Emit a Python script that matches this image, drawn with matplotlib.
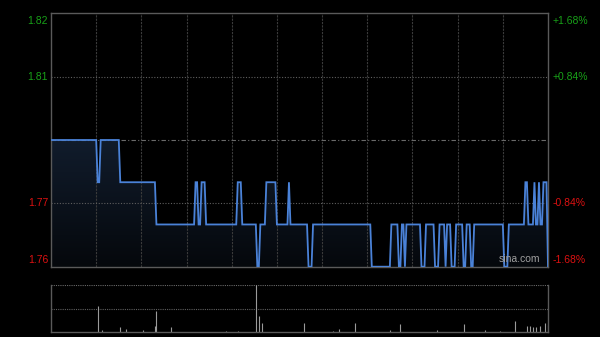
import numpy as np
import matplotlib
matplotlib.use('Agg')
import matplotlib.pyplot as plt
from matplotlib.patches import Polygon
from matplotlib.colors import LinearSegmentedColormap

# ---------------- data ----------------
prev_close = 1.79
# minute-by-minute price, run-length encoded (value, number of minutes)
run_values = [1.79, 1.78, 1.79, 1.78, 1.77, 1.78, 1.77, 1.78, 1.77, 1.78,
              1.77, 1.76, 1.77, 1.78, 1.77, 1.78, 1.77, 1.76, 1.77, 1.76,
              1.77, 1.76, 1.77, 1.76, 1.77, 1.76, 1.77, 1.76, 1.77, 1.76,
              1.77, 1.76, 1.77, 1.76, 1.77, 1.76, 1.77, 1.76, 1.77, 1.78,
              1.77, 1.78, 1.77, 1.78, 1.77, 1.78, 1.76]
run_lengths = [31, 2, 13, 24, 26, 2, 2, 3, 21, 3,
               10, 2, 4, 7, 8, 1, 12, 3, 39, 13,
               5, 2, 2, 1, 10, 3, 6, 3, 4, 1,
               3, 3, 5, 2, 3, 2, 20, 3, 11, 2,
               4, 1, 2, 1, 2, 3, 1]

left_labels = ['1.82', '1.81', '1.77', '1.76']
right_labels = ['+1.68%', '+0.84%', '-0.84%', '-1.68%']
pct_levels = [0.0168, 0.0084, -0.0084, -0.0168]

vol_minutes = [31, 34, 46, 50, 61, 69, 70, 80, 116, 124, 136, 138, 140, 168,
               187, 191, 202, 225, 232, 256, 274, 288, 298, 308, 316, 318,
               320, 322, 325, 328, 330]
vol_values = [550, 50, 110, 70, 40, 130, 450, 110, 30, 30, 1000, 340, 190, 190,
              30, 60, 200, 40, 160, 40, 160, 40, 30, 240, 120, 120,
              100, 100, 120, 200, 150]

# ---------------- figure ----------------
W, H = 600, 337
fig = plt.figure(figsize=(W / 100, H / 100), dpi=100, facecolor='black')
plt.rcParams['font.family'] = ['Liberation Sans', 'DejaVu Sans']

x0, x1 = 51, 548
ax = fig.add_axes([x0 / W, 1 - 267 / H, (x1 - x0) / W, (267 - 13) / H])
axv = fig.add_axes([x0 / W, 1 - 332 / H, (x1 - x0) / W, (332 - 285) / H])

prices = np.repeat(run_values, run_lengths)
minutes = np.arange(len(prices))
total = 330
ylo = prev_close * (1 - 0.0168)
yhi = prev_close * (1 + 0.0168)

for a in (ax, axv):
    a.set_facecolor('black')
    a.set_xticks([])
    a.set_yticks([])
    a.set_xlim(0, total)
    for s in a.spines.values():
        s.set_color('#5a5a5a')
        s.set_linewidth(1.0)

ax.set_ylim(ylo, yhi)

# gradient fill under price line
grad = np.linspace(0, 1, 256).reshape(-1, 1)
cmap = LinearSegmentedColormap.from_list('g', ['#05080c', '#111c2c'])
im = ax.imshow(grad, extent=[0, total, ylo, max(prices)], origin='lower',
               aspect='auto', cmap=cmap, zorder=1)
poly = Polygon(np.column_stack([np.r_[minutes, minutes[-1], 0],
                                np.r_[prices, ylo, ylo]]),
               closed=True, facecolor='none', edgecolor='none')
ax.add_patch(poly)
im.set_clip_path(poly)
ax.set_xlim(0, total)
ax.set_ylim(ylo, yhi)

# grid (drawn over the fill)
for t in range(30, total, 30):
    ax.axvline(t, color='#3a3a3a', lw=0.8, ls=(0, (2, 1)), zorder=2)
for p in (0.0084, -0.0084):
    ax.axhline(prev_close * (1 + p), color='#5e5e5e', lw=0.8, ls=(0, (1, 1.5)), zorder=2)
ax.axhline(prev_close, color='#6a6a6a', lw=0.8, ls=(0, (4, 2, 1, 2)), zorder=2)

ax.plot(minutes, prices, color='#4a82d8', lw=1.3, zorder=3, solid_joinstyle='miter')

# labels
green, red = '#18a018', '#dd1111'
for lab, rlab, p in zip(left_labels, right_labels, pct_levels):
    y = prev_close * (1 + p)
    col = green if p > 0 else red
    if p == 0.0168:
        va, dy = 'top', -3
    elif p == -0.0168:
        va, dy = 'bottom', 2
    else:
        va, dy = 'center', 0
    ax.annotate(lab, (0, y), xycoords=('axes fraction', 'data'),
                xytext=(-3, dy), textcoords='offset pixels',
                ha='right', va=va, color=col, fontsize=7.5)
    ax.annotate(rlab, (1, y), xycoords=('axes fraction', 'data'),
                xytext=(5, dy), textcoords='offset pixels',
                ha='left', va=va, color=col, fontsize=7.5)

ax.text(0.985, 0.012, 'sina.com', transform=ax.transAxes, ha='right', va='bottom',
        color='#a0a0a0', fontsize=7.5, zorder=4)

# volume panel
vmax = max(vol_values)
axv.set_ylim(0, vmax)
axv.spines['top'].set_visible(False)
axv.axhline(vmax, color='#6a6a6a', lw=0.8, ls=(0, (1, 1)))
axv.axhline(vmax / 2, color='#5e5e5e', lw=0.8, ls=(0, (1, 1)))
axv.vlines(vol_minutes, 0, vol_values, color='#9a9a9a', lw=0.8)

fig.savefig('out.png', dpi=100, facecolor='black')
